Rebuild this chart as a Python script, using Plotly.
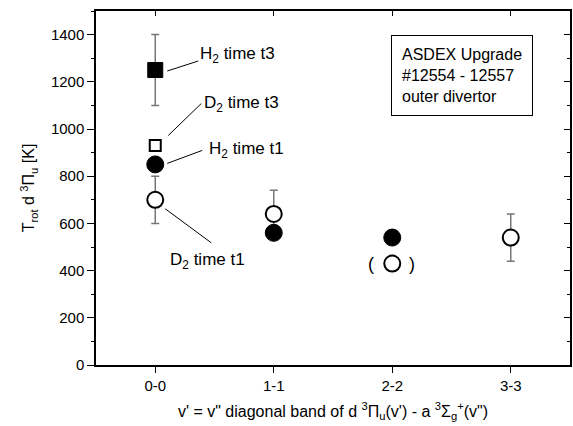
import plotly.graph_objects as go

FONT = "Liberation Sans, Arial, Helvetica, sans-serif"

categories = ["0-0", "1-1", "2-2", "3-3"]

# D2 time t1 (open circles)
d2_t1_cat = ["0-0", "1-1", "2-2", "3-3"]
d2_t1_val = [700, 640, 430, 540]
d2_t1_err = [100, 100, 0, 100]

# H2 time t1 (filled circles)
h2_t1_cat = ["0-0", "1-1", "2-2"]
h2_t1_val = [850, 560, 540]

# H2 time t3 (filled square)
h2_t3_cat = ["0-0"]
h2_t3_val = [1250]
h2_t3_err = [150]

# D2 time t3 (open square)
d2_t3_cat = ["0-0"]
d2_t3_val = [930]

y_ticks = [0, 200, 400, 600, 800, 1000, 1200, 1400]

fig = go.Figure()

fig.add_trace(go.Scatter(
    x=d2_t1_cat, y=d2_t1_val, mode="markers",
    marker=dict(symbol="circle", size=16, color="white",
                line=dict(color="black", width=2)),
    error_y=dict(type="data", array=d2_t1_err, color="#777777",
                 thickness=1.5, width=4),
    showlegend=False, hoverinfo="skip"))

fig.add_trace(go.Scatter(
    x=h2_t1_cat, y=h2_t1_val, mode="markers",
    marker=dict(symbol="circle", size=17, color="black",
                line=dict(color="black", width=1)),
    showlegend=False, hoverinfo="skip"))

fig.add_trace(go.Scatter(
    x=h2_t3_cat, y=h2_t3_val, mode="markers",
    marker=dict(symbol="square", size=15, color="black",
                line=dict(color="black", width=1)),
    error_y=dict(type="data", array=h2_t3_err, color="#777777",
                 thickness=1.5, width=4),
    showlegend=False, hoverinfo="skip"))

fig.add_trace(go.Scatter(
    x=d2_t3_cat, y=d2_t3_val, mode="markers",
    marker=dict(symbol="square", size=11, color="white",
                line=dict(color="black", width=2)),
    showlegend=False, hoverinfo="skip"))

# invisible trace to activate top/right axes
fig.add_trace(go.Scatter(
    x=categories, y=[0] * len(categories), xaxis="x2", yaxis="y2",
    mode="markers", marker=dict(opacity=0), showlegend=False,
    hoverinfo="skip"))

# leader lines (pixel offsets anchored to data points)
leaders = [
    ("0-0", h2_t3_val[0], 12, -1, 43, 9),
    ("0-0", d2_t3_val[0], 13, 10, 46, 42),
    ("0-0", h2_t1_val[0], 12, 1, 47, 14),
    ("0-0", d2_t1_val[0], 10, -9, 56, -43),
]
for cx, cy, x0, y0, x1, y1 in leaders:
    fig.add_shape(type="line", xref="x", yref="y",
                  xsizemode="pixel", ysizemode="pixel",
                  xanchor=cx, yanchor=cy,
                  x0=x0, y0=y0, x1=x1, y1=y1,
                  line=dict(color="black", width=1))

labels = [
    ("H<sub>2</sub> time t3", "0-0", h2_t3_val[0], 43, 15),
    ("D<sub>2</sub> time t3", "0-0", d2_t3_val[0], 47, 42),
    ("H<sub>2</sub> time t1", "0-0", h2_t1_val[0], 52, 14),
    ("D<sub>2</sub> time t1", "0-0", d2_t1_val[0], 13, -61),
]
for txt, cx, cy, xs, ys in labels:
    fig.add_annotation(x=cx, y=cy, xref="x", yref="y", text=txt,
                       showarrow=False, xanchor="left", yanchor="middle",
                       xshift=xs, yshift=ys,
                       font=dict(family=FONT, size=17, color="black"))

# parentheses around questionable point
fig.add_annotation(x="2-2", y=d2_t1_val[2], text="(", showarrow=False,
                   xshift=-21, yshift=0, font=dict(family=FONT, size=18, color="black"))
fig.add_annotation(x="2-2", y=d2_t1_val[2], text=")", showarrow=False,
                   xshift=20, yshift=0, font=dict(family=FONT, size=18, color="black"))

# info box
fig.add_annotation(x=0.622, y=0.932, xref="paper", yref="paper",
                   xanchor="left", yanchor="top", showarrow=False, align="left",
                   text="ASDEX Upgrade<br>#12554 - 12557<br>outer divertor",
                   font=dict(family=FONT, size=16, color="black"),
                   bordercolor="black", borderwidth=1, borderpad=10,
                   bgcolor="white")

fig.update_layout(
    width=573, height=426,
    margin=dict(l=96, r=3, t=11, b=61),
    paper_bgcolor="white", plot_bgcolor="white",
    font=dict(family=FONT, color="black"),
    xaxis=dict(
        type="category", categoryarray=categories, categoryorder="array",
        range=[-0.5, 3.5], showline=True, linecolor="black", linewidth=1.5,
        ticks="outside", ticklen=6, tickwidth=1, tickcolor="black",
        showgrid=False, zeroline=False,
        tickfont=dict(family=FONT, size=15),
        title=dict(text="v' = v\" diagonal band of d <sup>3</sup>\u03a0<sub>u</sub>(v') - a <sup>3</sup>\u03a3<sub>g</sub><sup>+</sup>(v\")",
                   font=dict(family=FONT, size=16), standoff=13),
    ),
    yaxis=dict(
        range=[0, 1500], tickvals=y_ticks, showline=True, linecolor="black",
        linewidth=1.5, ticks="outside", ticklen=7, tickwidth=1,
        tickcolor="black", showgrid=False, zeroline=False,
        tickfont=dict(family=FONT, size=15),
        minor=dict(dtick=100, ticks="outside", ticklen=3, tickcolor="black", showgrid=False),
        title=dict(text="T<sub>rot</sub> d <sup>3</sup>\u03a0<sub>u</sub> [K]",
                   font=dict(family=FONT, size=16), standoff=12),
    ),
    xaxis2=dict(
        type="category", categoryarray=categories, categoryorder="array",
        range=[-0.5, 3.5], overlaying="x", side="top", showline=True,
        linecolor="black", linewidth=1.5, ticks="inside", ticklen=5,
        tickcolor="black", showticklabels=False, showgrid=False, zeroline=False,
    ),
    yaxis2=dict(
        range=[0, 1500], tickvals=y_ticks, overlaying="y", side="right",
        showline=True, linecolor="black", linewidth=1.5, ticks="inside",
        ticklen=6, tickcolor="black", showticklabels=False, showgrid=False,
        zeroline=False,
        minor=dict(dtick=100, ticks="inside", ticklen=3, tickcolor="black", showgrid=False),
    ),
)

fig.write_html("out.html")
